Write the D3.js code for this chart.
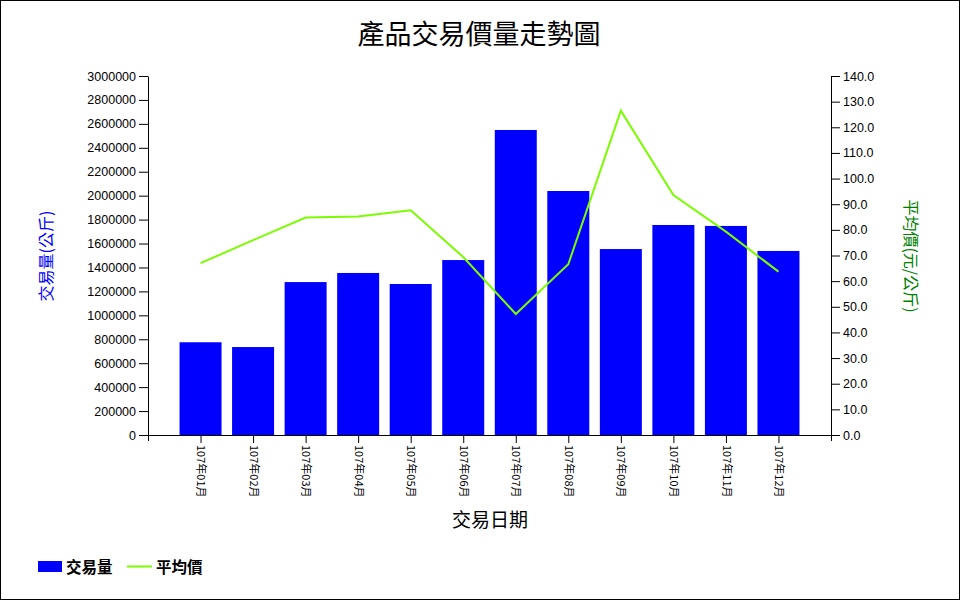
<!DOCTYPE html>
<html>
<head>
<meta charset="utf-8">
<script src="https://cdn.jsdelivr.net/npm/d3@7"></script>
<style>
  body { margin: 0; background: #fff; }
  svg text { fill: #000; }
</style>
</head>
<body>
<div class="chart"></div>
<script>
const months = ["107年01月", "107年02月", "107年03月", "107年04月", "107年05月", "107年06月",
                "107年07月", "107年08月", "107年09月", "107年10月", "107年11月", "107年12月"];
const volume = [775000, 735000, 1278000, 1354000, 1262000, 1462000,
                2549000, 2039000, 1554000, 1755000, 1747000, 1538000];
const avgPrice = [67.0, 76.0, 84.8, 85.2, 87.6, 69.4, 47.2, 66.6, 126.5, 93.6, 79.3, 63.7];
const leftTicks = d3.range(0, 3000001, 200000);
const rightTicks = d3.range(0, 140.1, 10);

const drawChart = () => {
    const w = 960;
    const h = 600;
    const left = 148, right = 831, top = 76, bottom = 435;
    const font = "'Liberation Sans', Arial, sans-serif";
    const cjk = "'Noto Sans CJK TC', 'Noto Sans CJK SC', sans-serif";

    const svg = d3.select(".chart")
        .append("svg")
        .attr("width", w)
        .attr("height", h);

    svg.append("rect")
        .attr("x", 0.5).attr("y", 0.5)
        .attr("width", w - 1).attr("height", h - 1)
        .attr("fill", "#fff").attr("stroke", "#000");

    const x = d3.scalePoint()
        .domain(months)
        .range([left, right])
        .padding(1);
    const yLeft = d3.scaleLinear().domain([0, 3000000]).range([bottom, top]);
    const yRight = d3.scaleLinear().domain([0, 140]).range([bottom, top]);
    const barW = 42;

    svg.selectAll("rect.bar")
        .data(volume)
        .enter()
        .append("rect")
        .attr("class", "bar")
        .attr("x", (d, i) => x(months[i]) - barW / 2)
        .attr("y", d => yLeft(d))
        .attr("width", barW)
        .attr("height", d => bottom - yLeft(d))
        .attr("fill", "#0000ff");

    const line = d3.line()
        .x((d, i) => x(months[i]))
        .y(d => yRight(d));
    svg.append("path")
        .datum(avgPrice)
        .attr("d", line)
        .attr("fill", "none")
        .attr("stroke", "#7cfc00")
        .attr("stroke-width", 2);

    const yAxisL = svg.append("g")
        .attr("transform", `translate(${left},0)`)
        .call(d3.axisLeft(yLeft).tickValues(leftTicks).tickFormat(d3.format("d")).tickSize(9).tickSizeOuter(0));
    const yAxisR = svg.append("g")
        .attr("transform", `translate(${right},0)`)
        .call(d3.axisRight(yRight).tickValues(rightTicks).tickFormat(d3.format(".1f")).tickSize(9).tickSizeOuter(0));
    const xAxis = svg.append("g")
        .attr("transform", `translate(0,${bottom})`)
        .call(d3.axisBottom(x).tickSize(8).tickSizeOuter(6));

    [yAxisL, yAxisR].forEach(g => {
        g.selectAll("text").style("font-family", font).style("font-size", "12.5px");
        g.selectAll("line, path").attr("stroke", "#000");
    });
    xAxis.selectAll("line, path").attr("stroke", "#000");
    xAxis.selectAll("text")
        .style("font-family", cjk)
        .style("font-size", "11px")
        .attr("text-anchor", "start")
        .attr("dy", "0.35em")
        .attr("transform", "rotate(90)")
        .attr("x", 10)
        .attr("y", 0);

    svg.append("text")
        .attr("x", 479).attr("y", 44)
        .attr("text-anchor", "middle")
        .style("font-family", cjk)
        .style("font-size", "27px")
        .text("產品交易價量走勢圖");

    svg.append("text")
        .attr("x", 490).attr("y", 527)
        .attr("text-anchor", "middle")
        .style("font-family", cjk)
        .style("font-size", "19px")
        .text("交易日期");

    svg.append("text")
        .attr("transform", "translate(52,256) rotate(-90)")
        .attr("text-anchor", "middle")
        .style("font-family", cjk)
        .style("font-size", "16px")
        .style("fill", "#0000ff")
        .text("交易量(公斤)");

    svg.append("text")
        .attr("transform", "translate(905,256) rotate(90)")
        .attr("text-anchor", "middle")
        .style("font-family", cjk)
        .style("font-size", "16px")
        .style("fill", "#008000")
        .text("平均價(元/公斤)");

    // legend
    const legend = svg.append("g");
    legend.append("rect")
        .attr("x", 38).attr("y", 561).attr("width", 24).attr("height", 11)
        .attr("fill", "#0000ff");
    legend.append("text")
        .attr("x", 66).attr("y", 573)
        .style("font-family", cjk).style("font-size", "15.5px").style("font-weight", "bold")
        .text("交易量");
    legend.append("line")
        .attr("x1", 127).attr("x2", 152).attr("y1", 566.5).attr("y2", 566.5)
        .attr("stroke", "#7cfc00").attr("stroke-width", 2);
    legend.append("text")
        .attr("x", 156).attr("y", 573)
        .style("font-family", cjk).style("font-size", "15.5px").style("font-weight", "bold")
        .text("平均價");
}

drawChart();
</script>
</body>
</html>
